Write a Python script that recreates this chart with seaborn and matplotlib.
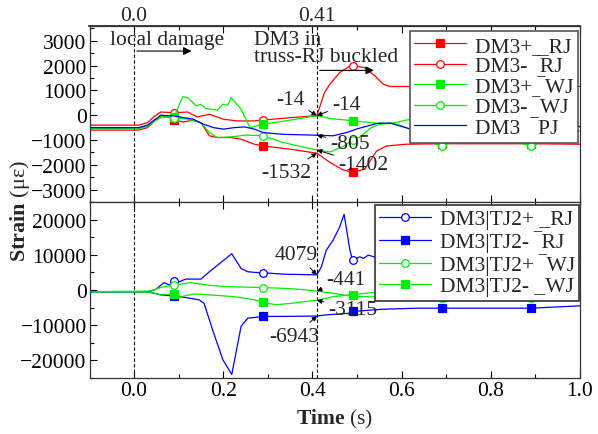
import numpy as np
import matplotlib.pyplot as plt
import seaborn as sns
from matplotlib.lines import Line2D
from matplotlib.ticker import MultipleLocator

# ---- data (time in s, strain in micro-strain) ----
# upper panel
t_p_rj = [-0.1, 0.01, 0.03, 0.045, 0.06, 0.075, 0.09, 0.11, 0.133, 0.15, 0.169, 0.187, 0.218, 0.24,
          0.27, 0.29, 0.35, 0.41, 0.44, 0.468, 0.49, 0.517, 0.532, 0.544, 0.566, 0.61, 0.69, 0.8, 0.89, 1.0]
dm3p_rj = [-600, -600, -500, -250, 0, -50, -200, -270, -200, -300, -830, -900, -900, -970,
           -1170, -1240, -1370, -1532, -1910, -2200, -2300, -2180, -1770, -1440, -1240, -1170, -1150, -1150, -1150, -1170]

t_m_rj = [-0.1, 0.01, 0.03, 0.045, 0.06, 0.09, 0.12, 0.142, 0.169, 0.2, 0.232, 0.27, 0.29, 0.35, 0.41,
          0.427, 0.439, 0.461, 0.484, 0.49, 0.517, 0.54, 0.559, 0.574, 0.62, 0.69, 0.8, 0.89, 1.0]
dm3m_rj = [-400, -400, -300, -50, 130, 100, 130, -70, 40, -160, -230, -230, -190, -100, -14,
           915, 1250, 1720, 1990, 2000, 1920, 1590, 1250, 1160, 1160, 1150, 1150, 1150, 1160]

t_p_wj = [-0.1, 0.01, 0.03, 0.045, 0.06, 0.09, 0.109, 0.12, 0.139, 0.15, 0.161, 0.187, 0.199, 0.21, 0.218,
          0.24, 0.26, 0.29, 0.35, 0.41, 0.44, 0.49, 0.544, 0.58, 0.62, 0.69, 0.8, 0.89, 1.0]
dm3p_wj = [-540, -540, -450, -250, -100, -60, 750, 710, 380, 440, 270, 210, 440, 400, 710,
           240, -500, -360, -200, -14, -135, -220, -320, -320, -160, -200, -300, -350, -480]

t_m_wj = [-0.1, 0.01, 0.03, 0.045, 0.06, 0.09, 0.12, 0.15, 0.169, 0.187, 0.22, 0.25, 0.29, 0.334, 0.41,
          0.44, 0.47, 0.49, 0.506, 0.53, 0.55, 0.58, 0.6, 0.62, 0.65, 0.69, 0.73, 0.78, 0.84, 0.89, 0.93, 1.0]
dm3m_wj = [-520, -520, -420, -200, -30, -100, -160, -300, -700, -900, -870, -800, -830, -1100, -1402,
           -1480, -1250, -1000, -880, -520, -360, -320, -430, -560, -1000, -1240, -1000, -850, -1000, -1240, -1000, -620]

t_pj = [-0.1, 0.01, 0.03, 0.045, 0.06, 0.09, 0.112, 0.133, 0.155, 0.178, 0.2, 0.225, 0.247, 0.27, 0.29,
        0.334, 0.41, 0.446, 0.48, 0.5, 0.545, 0.575, 0.62, 0.7, 0.8, 0.9, 1.0]
dm3_pj = [-500, -500, -400, -200, 0, -30, -100, -160, -360, -500, -560, -500, -470, -560, -700,
          -770, -805, -830, -680, -550, -330, -320, -560, -500, -450, -450, -450]

# lower panel
t_tp_rj = [-0.1, 0.03, 0.049, 0.067, 0.079, 0.09, 0.097, 0.116, 0.15, 0.169, 0.219, 0.24, 0.255, 0.27, 0.29,
           0.334, 0.41, 0.42, 0.431, 0.446, 0.461, 0.471, 0.484, 0.49, 0.506, 0.515, 0.525, 0.55, 0.6, 0.69,
           0.8, 0.89, 1.0]
tj2p_rj = [-500, -500, 200, 2100, 1400, 2650, 2100, 3100, 3100, 5200, 10300, 6100, 5200, 5000, 4900,
           4500, 4300, 6600, 11300, 14100, 17900, 21500, 11300, 8500, 9400, 9000, 9900, 9000, 9000, 9000,
           9000, 9000, 9000]

t_tm_rj = [-0.1, 0.03, 0.06, 0.09, 0.112, 0.146, 0.157, 0.176, 0.199, 0.219, 0.24, 0.255, 0.27, 0.29,
           0.334, 0.41, 0.431, 0.484, 0.49, 0.559, 0.634, 0.69, 0.89, 1.0]
tj2m_rj = [-500, -500, -1400, -1700, -2060, -2800, -3800, -11300, -19800, -24000, -10300, -8000, -7800, -7500,
           -7500, -7400, -7060, -6600, -6100, -5450, -5170, -5170, -5170, -4500]

t_tp_wj = [-0.1, 0.038, 0.06, 0.09, 0.127, 0.165, 0.202, 0.27, 0.29, 0.334, 0.371, 0.41, 0.446, 0.484,
           0.514, 0.55, 0.6, 0.69, 0.8, 0.89, 1.0]
tj2p_wj = [-500, -300, 760, 1400, 2100, 1400, 960, 760, 680, 480, 200, -300, -930, -1700,
           -1900, -2000, -2100, -2300, -2000, -2300, -1400]

t_tm_wj = [-0.1, 0.038, 0.06, 0.09, 0.105, 0.135, 0.172, 0.225, 0.27, 0.29, 0.318, 0.355, 0.41, 0.446,
           0.49, 0.536, 0.6, 0.69, 0.8, 0.89, 1.0]
tj2m_wj = [-500, -600, -1400, -1100, -1900, -1100, -1400, -1900, -2800, -3500, -4200, -3750, -2900, -1900,
           -1300, -730, -600, -500, -600, -500, -800]

marker_times = [0.09, 0.29, 0.49, 0.69, 0.89]

top_labels = ['DM3+ _RJ', 'DM3- \u203eRJ', 'DM3+ \u203eWJ', 'DM3- \u203eWJ', 'DM3  \u203ePJ']
bot_labels = ['DM3|TJ2+ _RJ', 'DM3|TJ2- \u203eRJ', 'DM3|TJ2+ \u203eWJ', 'DM3|TJ2- _WJ']

top_notes = [('-14', -14, 0.35, 650), ('-14', -14, 0.476, 440), ('-805', -805, 0.484, -1130),
             ('-1402', -1402, 0.514, -1980), ('-1532', -1532, 0.341, -2310)]
bot_notes = [('4079', 4300, 0.364, 10200), ('-441', -300, 0.476, 3050),
             ('-3115', -2900, 0.491, -5500), ('-6943', -7400, 0.36, -13100)]

RED, GREEN, BLUE = '#ff0000', '#00ee00', '#0000ff'

sns.set_theme(style='ticks')
plt.rcParams['font.family'] = ['Liberation Serif', 'DejaVu Serif']
plt.rcParams['mathtext.fontset'] = 'custom'
plt.rcParams['mathtext.rm'] = 'Liberation Serif'
plt.rcParams['mathtext.bf'] = 'Liberation Serif:bold'
FS = 15.5


def draw(ax, t, v, color, marker=None, filled=True):
    kw = dict(color=color, lw=0.9, sort=False, estimator=None)
    if marker is not None:
        idx = [i for i, x in enumerate(t) if any(abs(x - m) < 1e-9 for m in marker_times)]
        kw.update(marker=marker, markevery=idx, ms=5.5, markeredgecolor=color,
                  markerfacecolor=color if filled else 'white', markeredgewidth=0.9)
    sns.lineplot(x=t, y=v, ax=ax, **kw)
    return Line2D([], [], color=color, lw=0.9, marker=marker, ms=5.5, markeredgecolor=color,
                  markerfacecolor=(color if filled else 'white'), markeredgewidth=0.9)


def style_axes(ax, ymaj, ymin):
    ax.set_xlim(-0.1, 1.0)
    ax.xaxis.set_major_locator(MultipleLocator(0.2))
    ax.xaxis.set_minor_locator(MultipleLocator(0.1))
    ax.yaxis.set_major_locator(MultipleLocator(ymaj))
    ax.yaxis.set_minor_locator(MultipleLocator(ymin))
    ax.tick_params(which='both', direction='in', top=True, labelsize=FS, colors='black', width=0.8, pad=2)
    ax.tick_params(which='major', length=5)
    ax.tick_params(which='minor', length=3)
    for s in ax.spines.values():
        s.set_color('#333333')
        s.set_linewidth(0.9)
    for x0 in (0.0, 0.41):
        ax.axvline(x0, color='black', ls=(0, (3, 2)), lw=0.8, zorder=1)
    ax.set_xlabel('')
    ax.set_ylabel('')


fig = plt.figure(figsize=(5.98, 4.35), dpi=100)
W, H = 598, 435
ax1 = fig.add_axes([89.5 / W, 1 - 203 / H, (580 - 89.5) / W, (203 - 27) / H])
ax2 = fig.add_axes([89.5 / W, 1 - 379 / H, (580 - 89.5) / W, (379 - 203) / H])

# upper panel
h1 = [draw(ax1, t_p_rj, dm3p_rj, RED, 's', True),
      draw(ax1, t_m_rj, dm3m_rj, RED, 'o', False),
      draw(ax1, t_p_wj, dm3p_wj, GREEN, 's', True),
      draw(ax1, t_m_wj, dm3m_wj, GREEN, 'o', False),
      draw(ax1, t_pj, dm3_pj, BLUE)]
style_axes(ax1, 1000, 500)
ax1.set_ylim(-3500, 3600)
ax1.tick_params(labelbottom=False)

sec = ax1.secondary_xaxis('top')
sec.set_xticks([0.0, 0.41], labels=['0.0', '0.41'])
sec.tick_params(length=0, pad=1, labelsize=FS)

ax1.text(0.074, 3060, 'local damage', ha='center', va='center', fontsize=FS)
ax1.annotate('', xy=(0.135, 2590), xytext=(0.0, 2590),
             arrowprops=dict(arrowstyle='-|>', color='black', lw=0.8, mutation_scale=12))
ax1.text(0.27, 2700, 'DM3 in\ntruss-RJ buckled', ha='left', va='center', fontsize=FS, linespacing=0.85)
ax1.annotate('', xy=(0.544, 1810), xytext=(0.41, 1810),
             arrowprops=dict(arrowstyle='-|>', color='black', lw=0.8, mutation_scale=12))
for txt, yv, tx, ty in top_notes:
    ax1.annotate(txt, xy=(0.41, yv), xytext=(tx, ty), ha='center', va='center', fontsize=FS,
                 arrowprops=dict(arrowstyle='-|>', color='black', lw=0.7, mutation_scale=7, shrinkA=1, shrinkB=0))

leg1 = ax1.legend(h1, top_labels, loc='upper right', bbox_to_anchor=(578 / W, 1 - 32 / H),
                  bbox_transform=fig.transFigure, borderaxespad=0, fontsize=FS, handlelength=2.4,
                  labelspacing=0.02, borderpad=0.22, handletextpad=0.4, fancybox=False,
                  framealpha=1, edgecolor='#555555')
leg1.get_frame().set_linewidth(1.2)

# lower panel
h2 = [draw(ax2, t_tp_rj, tj2p_rj, BLUE, 'o', False),
      draw(ax2, t_tm_rj, tj2m_rj, BLUE, 's', True),
      draw(ax2, t_tp_wj, tj2p_wj, GREEN, 'o', False),
      draw(ax2, t_tm_wj, tj2m_wj, GREEN, 's', True)]
style_axes(ax2, 10000, 5000)
ax2.set_ylim(-25000, 25000)
ax2.xaxis.set_major_formatter(plt.FuncFormatter(lambda v, p: f'{v:.1f}'))
for txt, yv, tx, ty in bot_notes:
    ax2.annotate(txt, xy=(0.41, yv), xytext=(tx, ty), ha='center', va='center', fontsize=FS,
                 arrowprops=dict(arrowstyle='-|>', color='black', lw=0.7, mutation_scale=7, shrinkA=1, shrinkB=0))

leg2 = ax2.legend(h2, bot_labels, loc='upper right', bbox_to_anchor=(579 / W, 1 - 206 / H),
                  bbox_transform=fig.transFigure, borderaxespad=0, fontsize=FS, handlelength=2.4,
                  labelspacing=0.05, borderpad=0.2, handletextpad=0.4, fancybox=False,
                  framealpha=1, edgecolor='#333333')
leg2.get_frame().set_linewidth(1.2)

ax2.set_xlabel('$\\mathbf{Time}$ (s)', fontsize=FS, labelpad=5)
fig.text(0.033, 0.516, '$\\mathbf{Strain}$ (\u03bc\u03b5)', rotation=90, ha='center', va='center', fontsize=FS + 0.5)

fig.savefig('out.png', dpi=100)
